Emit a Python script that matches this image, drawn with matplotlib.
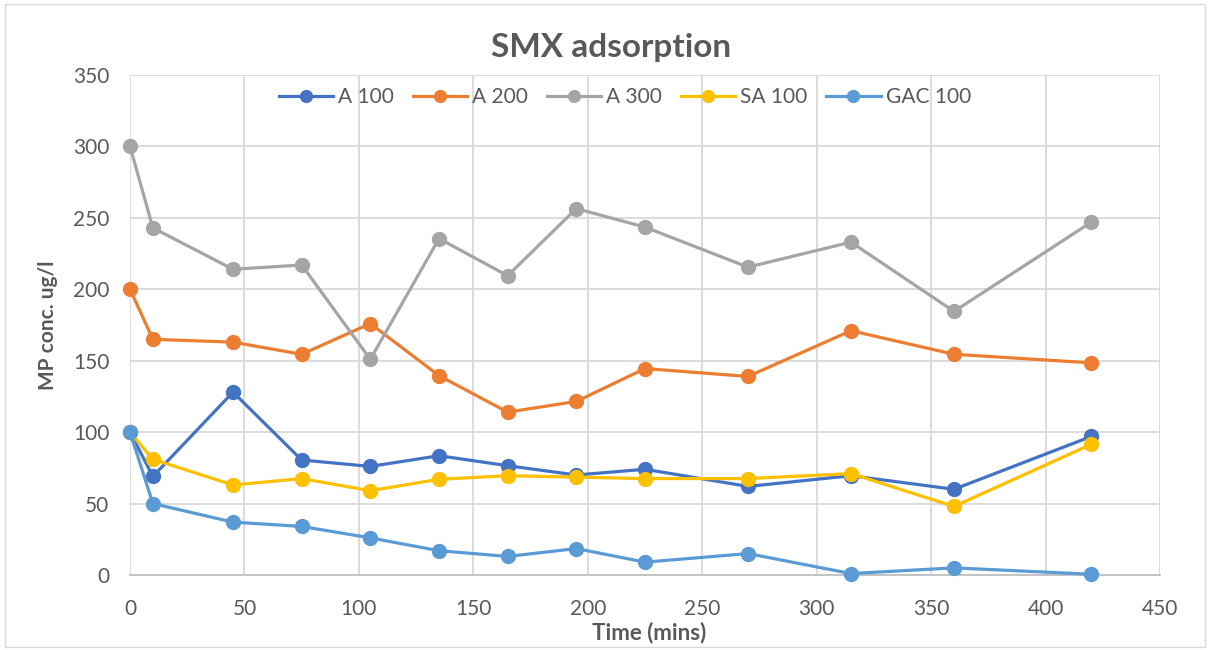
import matplotlib
matplotlib.use("Agg")
import matplotlib.pyplot as plt
from matplotlib.patches import Rectangle

plt.rcParams['font.family'] = ['Lato', 'DejaVu Sans']

time_mins = [0, 10, 45, 75, 105, 135, 165, 195, 225, 270, 315, 360, 420]
a100 = [100, 69, 128, 80.5, 76, 83.5, 76.5, 70, 74, 62, 69.5, 60, 97]
a200 = [200, 165, 163, 154.5, 176, 139.5, 114, 121.5, 144.5, 139, 171, 154.5, 148.5]
a300 = [300, 243, 214, 217, 151, 235.5, 209.5, 256.5, 243.5, 215.5, 233, 184.5, 247]
sa100 = [100, 81, 63, 67.5, 59, 67, 69.5, 68.5, 67.5, 67.5, 71, 48, 91.5]
gac100 = [100, 50, 37, 34, 26, 17, 13, 18.5, 9, 15, 1, 5, 0.5]

series = [
    ("A 100", a100, "#4472C4"),
    ("A 200", a200, "#ED7D31"),
    ("A 300", a300, "#A5A5A5"),
    ("SA 100", sa100, "#FFC000"),
    ("GAC 100", gac100, "#5B9BD5"),
]

text_color = "#595959"
grid_color = "#D9D9D9"

W, H = 1210, 650
fig = plt.figure(figsize=(W / 100, H / 100), dpi=100)
fig.patches.append(Rectangle((0.004, 0.004), 0.992, 0.99, transform=fig.transFigure,
                             fill=False, edgecolor="#D9D9D9", linewidth=1))
ax = fig.add_axes([130 / W, 1 - 575 / H, 1030 / W, 500 / H])

for name, vals, color in series:
    ax.plot(time_mins, vals, color=color, linewidth=2.3, marker='o', markersize=10,
            label=name, clip_on=False, zorder=3)

ax.set_xlim(0, 450)
ax.set_ylim(0, 350)
ax.set_xticks(range(0, 451, 50))
ax.set_yticks(range(0, 351, 50))
ax.grid(True, color=grid_color, linewidth=1.3, zorder=0)
ax.set_axisbelow(True)
for side in ("top", "right", "left"):
    ax.spines[side].set_visible(False)
ax.spines["bottom"].set_color("#BFBFBF")
ax.spines["bottom"].set_linewidth(1.3)
ax.tick_params(axis='both', length=0, labelsize=15, colors=text_color)
ax.tick_params(axis='x', pad=17)
ax.tick_params(axis='y', pad=15)

fig.text(611 / W, 1 - 47 / H, "SMX adsorption", fontsize=24, fontweight='bold',
         color=text_color, ha='center', va='center')
ax.set_xlabel("Time (mins)", fontsize=16, fontweight='bold', color=text_color)
ax.xaxis.set_label_coords((649 - 130) / 1030, (575 - 633) / 500)
ax.xaxis.label.set_va('center')
ax.set_ylabel("MP conc. ug/l", fontsize=15, fontweight='bold', color=text_color)
ax.yaxis.set_label_coords((48 - 130) / 1030, 0.5)
ax.yaxis.label.set_va('center')

ax.legend(loc='center', bbox_to_anchor=((625 - 130) / 1030, (575 - 97) / 500), ncol=5,
          frameon=False, fontsize=15, handlelength=2.6, columnspacing=0.9,
          handletextpad=0.25, labelcolor=text_color, markerscale=0.85)

fig.savefig("out.png", dpi=100, facecolor="white")
